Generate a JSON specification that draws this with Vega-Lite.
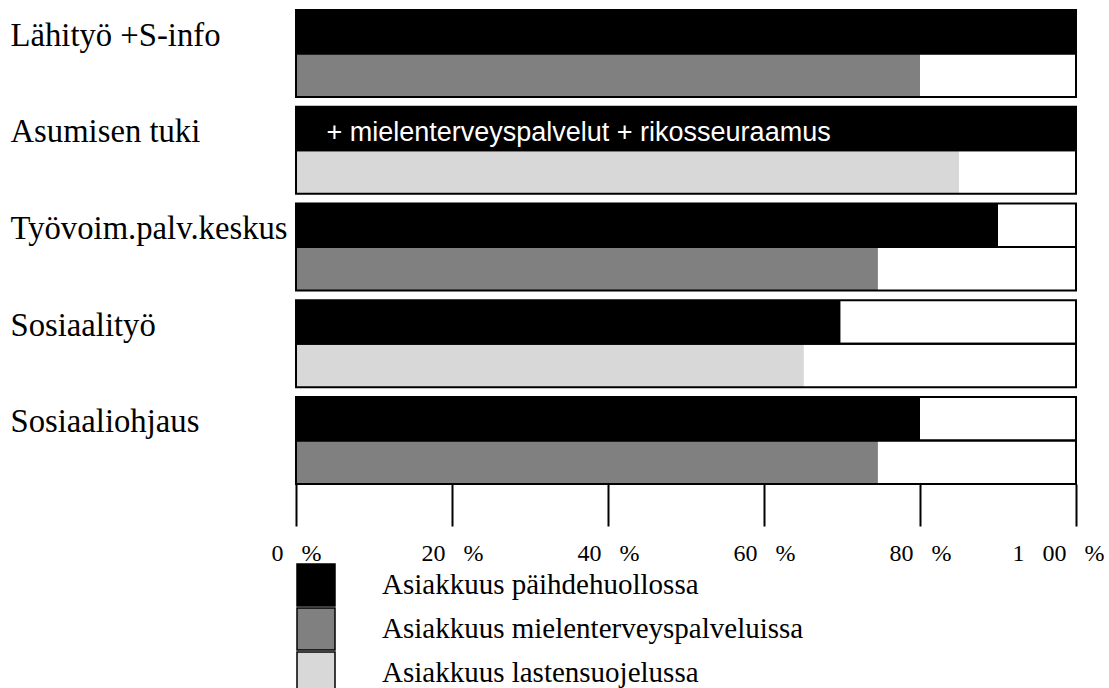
{
  "$schema": "https://vega.github.io/schema/vega-lite/v6.json",
  "width": 780,
  "height": 474,
  "autosize": "none",
  "padding": {"left": 296, "top": 10, "right": 33, "bottom": 204},
  "background": "white",
  "config": {"view": {"stroke": null}},
  "datasets": {
    "bars": [
      {"group": "Lähityö +S-info", "slot": "1", "series": "Asiakkuus päihdehuollossa", "value": 100},
      {"group": "Lähityö +S-info", "slot": "2", "series": "Asiakkuus mielenterveyspalveluissa", "value": 80},
      {"group": "Asumisen tuki", "slot": "1", "series": "Asiakkuus päihdehuollossa", "value": 100},
      {"group": "Asumisen tuki", "slot": "2", "series": "Asiakkuus lastensuojelussa", "value": 85},
      {"group": "Työvoim.palv.keskus", "slot": "1", "series": "Asiakkuus päihdehuollossa", "value": 90},
      {"group": "Työvoim.palv.keskus", "slot": "2", "series": "Asiakkuus mielenterveyspalveluissa", "value": 74.6},
      {"group": "Sosiaalityö", "slot": "1", "series": "Asiakkuus päihdehuollossa", "value": 69.8},
      {"group": "Sosiaalityö", "slot": "2", "series": "Asiakkuus lastensuojelussa", "value": 65.1},
      {"group": "Sosiaaliohjaus", "slot": "1", "series": "Asiakkuus päihdehuollossa", "value": 80},
      {"group": "Sosiaaliohjaus", "slot": "2", "series": "Asiakkuus mielenterveyspalveluissa", "value": 74.6}
    ],
    "notes": [
      {"group": "Asumisen tuki", "slot": "1", "note": "+ mielenterveyspalvelut + rikosseuraamus", "value": 3.9}
    ]
  },
  "data": {"name": "bars"},
  "encoding": {
    "y": {
      "field": "group", "type": "nominal", "sort": null,
      "scale": {"paddingInner": 0.1, "paddingOuter": 0},
      "axis": {
        "title": null, "domain": false, "ticks": false, "tickSize": 0,
        "labelAlign": "left", "labelPadding": 286, "labelBaseline": "alphabetic",
        "labelOffset": -8, "labelFont": "Liberation Serif", "labelFontSize": 32.7,
        "labelColor": "black", "labelLimit": 400
      }
    },
    "yOffset": {"field": "slot", "type": "nominal", "sort": ["1", "2"]}
  },
  "layer": [
    {
      "mark": {"type": "bar", "strokeWidth": 0},
      "encoding": {
        "x": {
          "field": "value", "type": "quantitative",
          "scale": {"domain": [0, 100], "nice": false},
          "axis": {
            "title": null, "domain": false, "grid": false,
            "values": [0, 20, 40, 60, 80, 100],
            "tickSize": 42, "tickWidth": 2, "tickColor": "black",
            "labelExpr": "datum.value == 100 ? '1\u00a0\u00a0 00\u00a0\u00a0 %' : datum.value + '\u00a0\u00a0\u00a0%'",
            "labelFont": "Liberation Serif", "labelFontSize": 24, "labelColor": "black",
            "labelBaseline": "alphabetic", "labelPadding": 34,
            "labelOffset": {"condition": {"test": "datum.value == 100", "value": -18}, "value": 0},
            "labelFlush": false, "labelOverlap": false
          }
        },
        "color": {
          "field": "series", "type": "nominal",
          "scale": {
            "domain": ["Asiakkuus päihdehuollossa", "Asiakkuus mielenterveyspalveluissa", "Asiakkuus lastensuojelussa"],
            "range": ["#000000", "#808080", "#d8d8d8"]
          },
          "legend": {
            "title": null, "orient": "none", "legendX": 0, "legendY": 555,
            "padding": 0, "symbolType": "M-1,-1.1H1V1.1H-1Z", "symbolSize": 1444,
            "symbolStrokeColor": "black", "symbolStrokeWidth": 1.5,
            "rowPadding": -5.5, "labelOffset": 46,
            "labelFont": "Liberation Serif", "labelFontSize": 29, "labelColor": "black",
            "labelLimit": 600
          }
        }
      }
    },
    {
      "mark": {"type": "bar", "filled": false, "stroke": "black", "strokeWidth": 2},
      "encoding": {
        "x": {"datum": 100, "type": "quantitative"}
      }
    },
    {
      "data": {"name": "notes"},
      "mark": {"type": "text", "align": "left", "baseline": "alphabetic", "dy": 12, "color": "white", "font": "Liberation Sans", "fontSize": 27},
      "encoding": {
        "x": {"field": "value", "type": "quantitative"},
        "text": {"field": "note"}
      }
    }
  ]
}
